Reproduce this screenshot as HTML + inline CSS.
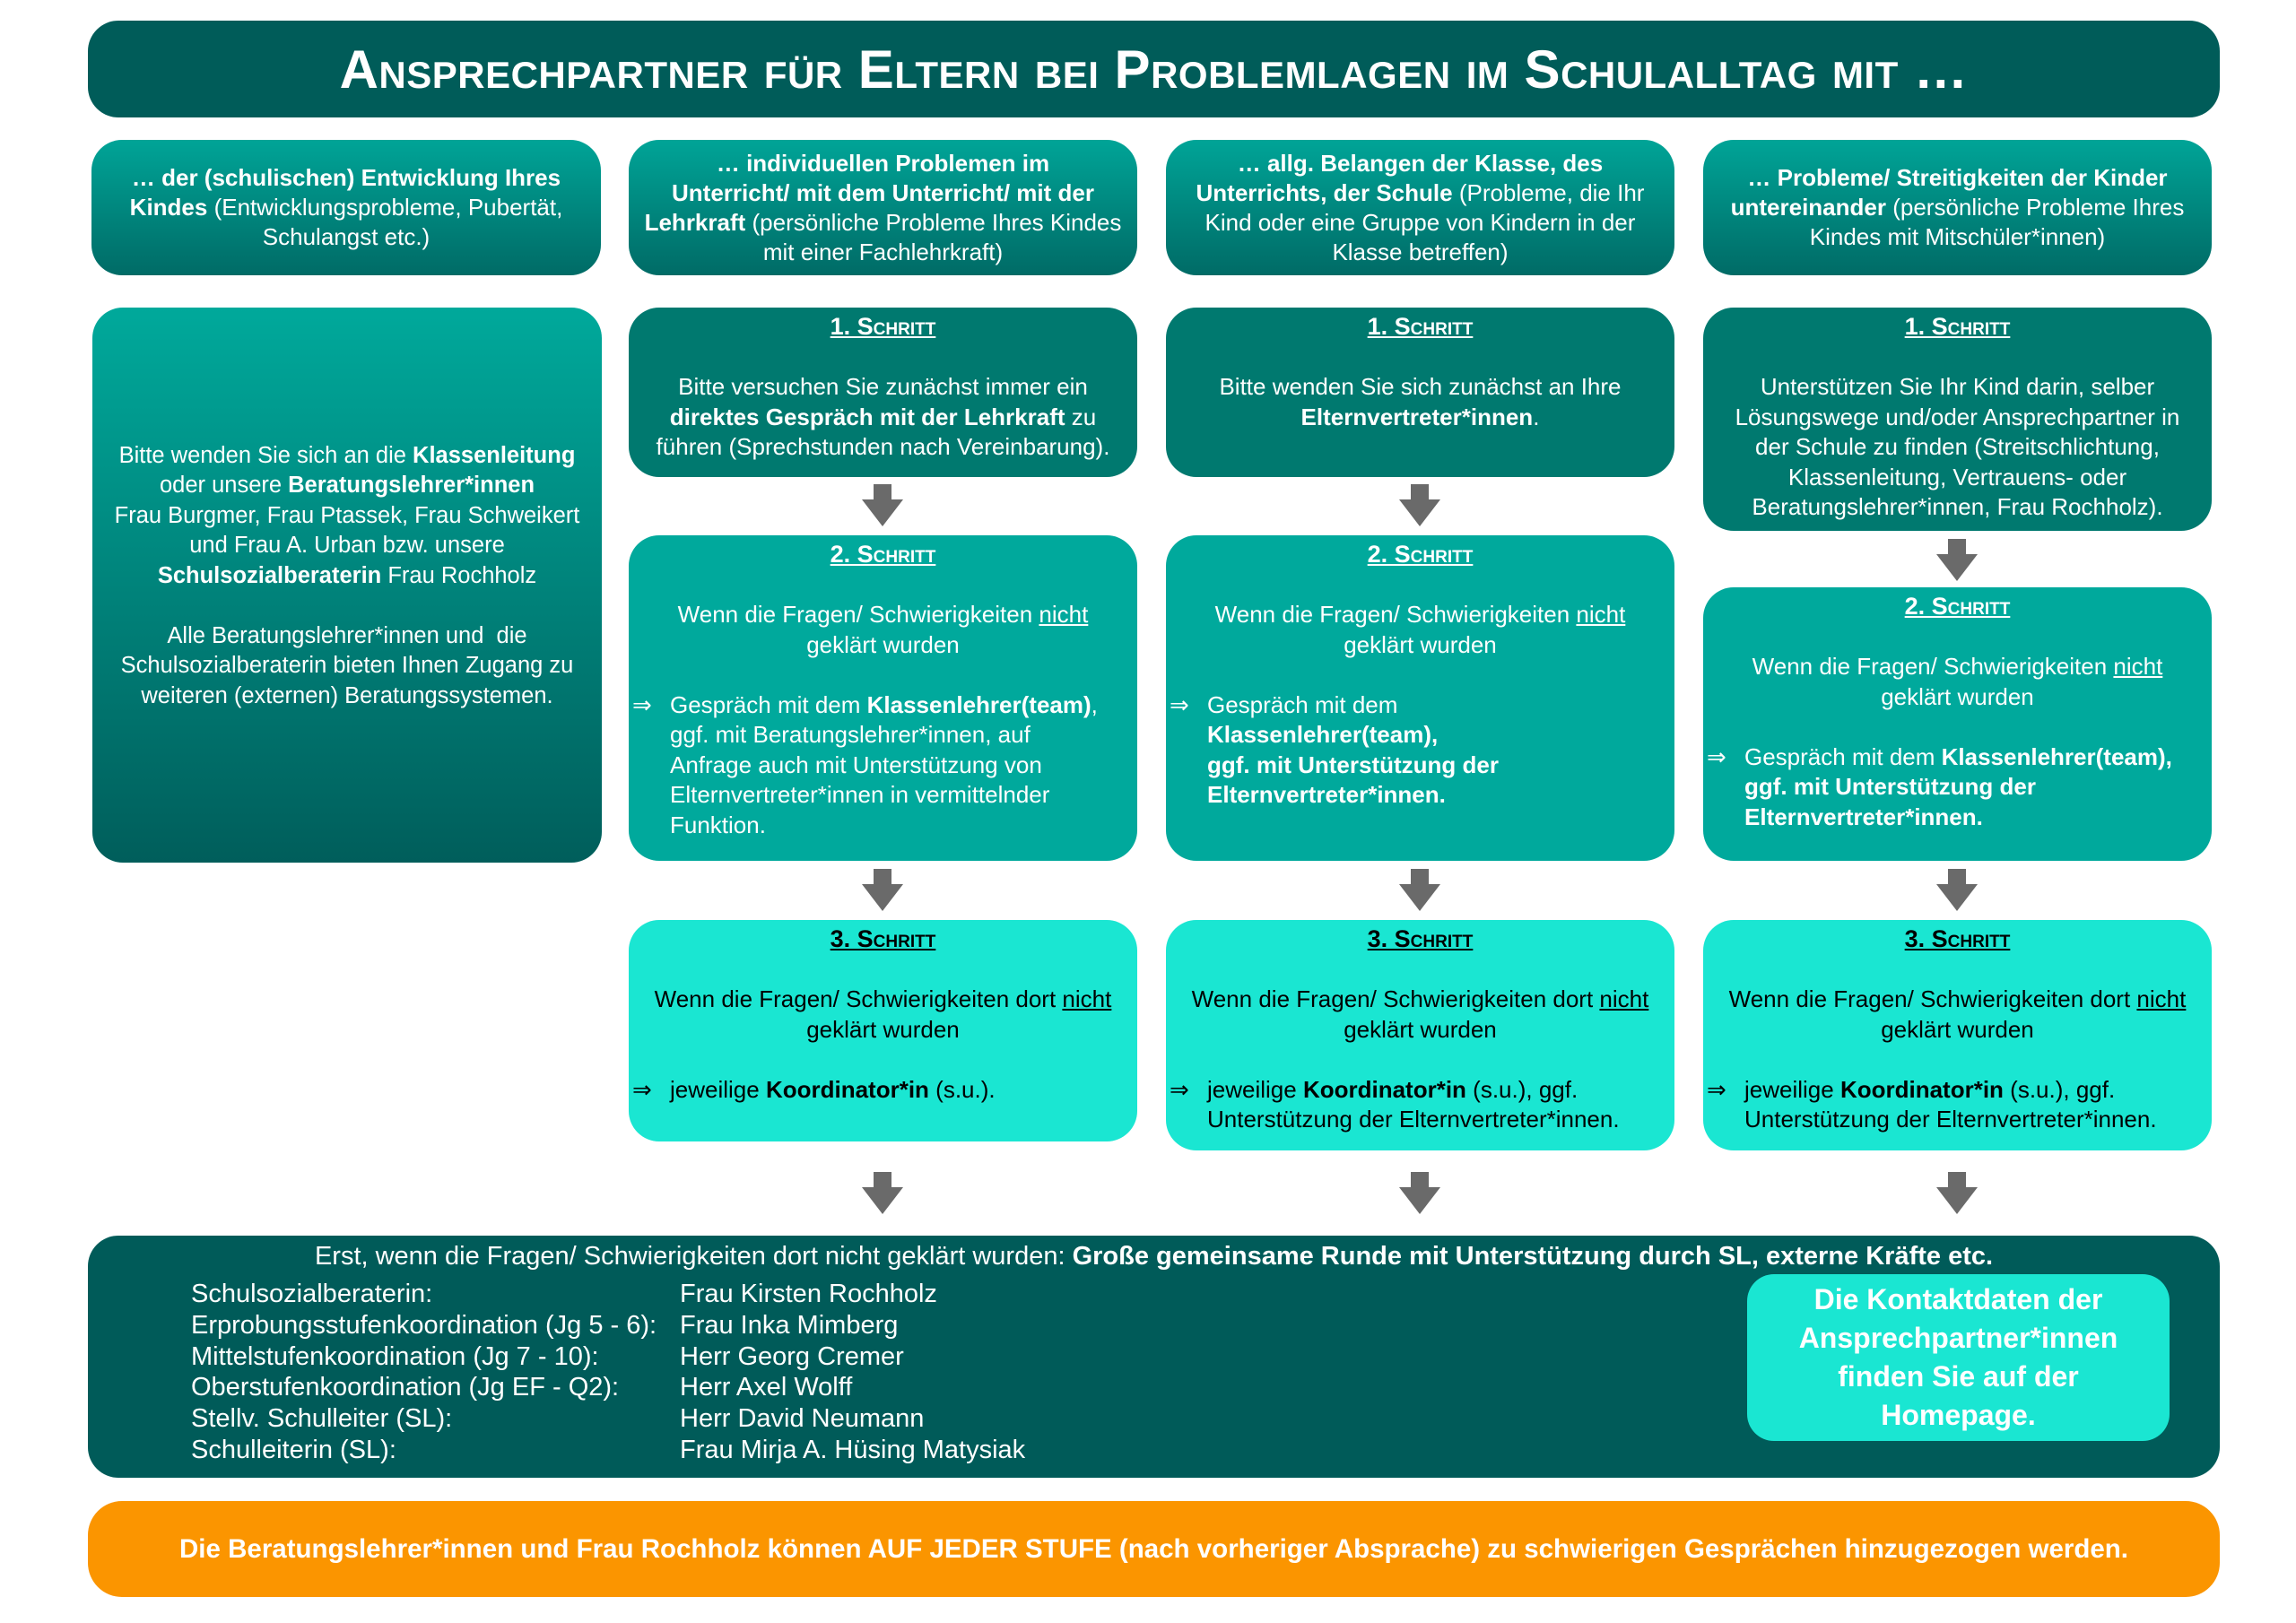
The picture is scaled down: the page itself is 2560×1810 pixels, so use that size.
<!DOCTYPE html>
<html><head><meta charset="utf-8">
<style>
*{margin:0;padding:0;box-sizing:border-box}
body{width:2560px;height:1810px;background:#fff;position:relative;overflow:hidden;font-family:"Liberation Sans",sans-serif;color:#fff}
.b{position:absolute;border-radius:34px}
.title{left:98px;top:23px;width:2377px;height:108px;background:#005c59;display:flex;align-items:center;justify-content:center;font-size:60px;font-weight:bold;font-variant:small-caps;letter-spacing:0.5px}
.hd{top:156px;height:151px;background:linear-gradient(#00a497,#006b66);display:flex;align-items:center;justify-content:center;text-align:center;font-size:26px;line-height:33px;padding:0 4px;white-space:nowrap}
.s1{background:#00796f}
.s2{background:#00a99c}
.s3{background:#1ae6d2;color:#000}
.st{text-align:center;font-size:26px;line-height:33.5px;padding:5px 4px 0;white-space:nowrap}
.st .t{font-weight:bold;text-decoration:underline;font-variant:small-caps;font-size:27px}
.li{text-align:left;padding-left:42px;text-indent:-42px}
.li span.a{display:inline-block;width:42px;text-indent:0}
.arr{position:absolute;width:46px;height:47px}
u{text-decoration:underline}
</style></head><body>
<div class="b title">Ansprechpartner für Eltern bei Problemlagen im Schulalltag mit …</div>

<div class="b hd" style="left:102px;width:568px"><div><b>… der (schulischen) Entwicklung Ihres<br>Kindes</b> (Entwicklungsprobleme, Pubertät,<br>Schulangst etc.)</div></div>
<div class="b hd" style="left:701px;width:567px"><div><b>… individuellen Problemen im<br>Unterricht/ mit dem Unterricht/ mit der<br>Lehrkraft</b> (persönliche Probleme Ihres Kindes<br>mit einer Fachlehrkraft)</div></div>
<div class="b hd" style="left:1300px;width:567px"><div><b>… allg. Belangen der Klasse, des<br>Unterrichts, der Schule</b> (Probleme, die Ihr<br>Kind oder eine Gruppe von Kindern in der<br>Klasse betreffen)</div></div>
<div class="b hd" style="left:1899px;width:567px"><div><b>… Probleme/ Streitigkeiten der Kinder<br>untereinander</b> (persönliche Probleme Ihres<br>Kindes mit Mitschüler*innen)</div></div>

<div class="b" style="left:103px;top:343px;width:568px;height:619px;background:linear-gradient(#00a99b,#005e5b);display:flex;align-items:center;justify-content:center;text-align:center;font-size:25.5px;line-height:33.5px;padding:0 0 20px;white-space:nowrap">
<div>Bitte wenden Sie sich an die <b>Klassenleitung</b><br>oder unsere <b>Beratungslehrer*innen</b><br>Frau Burgmer, Frau Ptassek, Frau Schweikert<br>und Frau A. Urban bzw. unsere<br><b>Schulsozialberaterin</b> Frau Rochholz<br><br>Alle Beratungslehrer*innen und&nbsp; die<br>Schulsozialberaterin bieten Ihnen Zugang zu<br>weiteren (externen) Beratungssystemen.</div></div>

<!-- col2 -->
<div class="b s1 st" style="left:701px;top:343px;width:567px;height:189px"><div class="t">1. Schritt</div><br>Bitte versuchen Sie zunächst immer ein<br><b>direktes Gespräch mit der Lehrkraft</b> zu<br>führen (Sprechstunden nach Vereinbarung).</div>
<div class="b s2 st" style="left:701px;top:597px;width:567px;height:363px"><div class="t">2. Schritt</div><br>Wenn die Fragen/ Schwierigkeiten <u>nicht</u><br>geklärt wurden<br><br><div class="li"><span class="a">⇒</span>Gespräch mit dem <b>Klassenlehrer(team)</b>,<br>ggf. mit Beratungslehrer*innen, auf<br>Anfrage auch mit Unterstützung von<br>Elternvertreter*innen in vermittelnder<br>Funktion.</div></div>
<div class="b s3 st" style="left:701px;top:1026px;width:567px;height:247px"><div class="t">3. Schritt</div><br>Wenn die Fragen/ Schwierigkeiten dort <u>nicht</u><br>geklärt wurden<br><br><div class="li"><span class="a">⇒</span>jeweilige <b>Koordinator*in</b> (s.u.).</div></div>

<!-- col3 -->
<div class="b s1 st" style="left:1300px;top:343px;width:567px;height:189px"><div class="t">1. Schritt</div><br>Bitte wenden Sie sich zunächst an Ihre<br><b>Elternvertreter*innen</b>.</div>
<div class="b s2 st" style="left:1300px;top:597px;width:567px;height:363px"><div class="t">2. Schritt</div><br>Wenn die Fragen/ Schwierigkeiten <u>nicht</u><br>geklärt wurden<br><br><div class="li"><span class="a">⇒</span>Gespräch mit dem<br><b>Klassenlehrer(team),<br>ggf. mit Unterstützung der<br>Elternvertreter*innen.</b></div></div>
<div class="b s3 st" style="left:1300px;top:1026px;width:567px;height:257px"><div class="t">3. Schritt</div><br>Wenn die Fragen/ Schwierigkeiten dort <u>nicht</u><br>geklärt wurden<br><br><div class="li"><span class="a">⇒</span>jeweilige <b>Koordinator*in</b> (s.u.), ggf.<br>Unterstützung der Elternvertreter*innen.</div></div>

<!-- col4 -->
<div class="b s1 st" style="left:1899px;top:343px;width:567px;height:249px"><div class="t">1. Schritt</div><br>Unterstützen Sie Ihr Kind darin, selber<br>Lösungswege und/oder Ansprechpartner in<br>der Schule zu finden (Streitschlichtung,<br>Klassenleitung, Vertrauens- oder<br>Beratungslehrer*innen, Frau Rochholz).</div>
<div class="b s2 st" style="left:1899px;top:655px;width:567px;height:305px"><div class="t">2. Schritt</div><br>Wenn die Fragen/ Schwierigkeiten <u>nicht</u><br>geklärt wurden<br><br><div class="li"><span class="a">⇒</span>Gespräch mit dem <b>Klassenlehrer(team),<br>ggf. mit Unterstützung der<br>Elternvertreter*innen.</b></div></div>
<div class="b s3 st" style="left:1899px;top:1026px;width:567px;height:257px"><div class="t">3. Schritt</div><br>Wenn die Fragen/ Schwierigkeiten dort <u>nicht</u><br>geklärt wurden<br><br><div class="li"><span class="a">⇒</span>jeweilige <b>Koordinator*in</b> (s.u.), ggf.<br>Unterstützung der Elternvertreter*innen.</div></div>

<!-- arrows -->
<svg width="0" height="0" style="position:absolute"><defs><symbol id="ar" viewBox="0 0 46 47"><path d="M13 0H33V17H46L23 47L0 17H13Z" fill="#6a6a6a"/></symbol></defs></svg>
<svg class="arr" style="left:961px;top:540px"><use href="#ar"/></svg>
<svg class="arr" style="left:1560px;top:540px"><use href="#ar"/></svg>
<svg class="arr" style="left:2159px;top:601px"><use href="#ar"/></svg>
<svg class="arr" style="left:961px;top:969px"><use href="#ar"/></svg>
<svg class="arr" style="left:1560px;top:969px"><use href="#ar"/></svg>
<svg class="arr" style="left:2159px;top:969px"><use href="#ar"/></svg>
<svg class="arr" style="left:961px;top:1307px"><use href="#ar"/></svg>
<svg class="arr" style="left:1560px;top:1307px"><use href="#ar"/></svg>
<svg class="arr" style="left:2159px;top:1307px"><use href="#ar"/></svg>

<!-- bottom -->
<div class="b" style="left:98px;top:1378px;width:2377px;height:270px;background:#005b59">
<div style="position:absolute;left:0;width:2377px;top:6px;text-align:center;font-size:29px;line-height:34px;white-space:nowrap">Erst, wenn die Fragen/ Schwierigkeiten dort nicht geklärt wurden: <b>Große gemeinsame Runde mit Unterstützung durch SL, externe Kräfte etc.</b></div>
<div style="position:absolute;left:115px;top:48px;font-size:29px;line-height:34.8px">Schulsozialberaterin:<br>Erprobungsstufenkoordination (Jg 5 - 6):<br>Mittelstufenkoordination (Jg 7 - 10):<br>Oberstufenkoordination (Jg EF - Q2):<br>Stellv. Schulleiter (SL):<br>Schulleiterin (SL):</div>
<div style="position:absolute;left:660px;top:48px;font-size:29px;line-height:34.8px">Frau Kirsten Rochholz<br>Frau Inka Mimberg<br>Herr Georg Cremer<br>Herr Axel Wolff<br>Herr David Neumann<br>Frau Mirja A. Hüsing Matysiak</div>
</div>
<div class="b" style="left:1948px;top:1421px;width:471px;height:186px;background:#1ae6d2;display:flex;align-items:center;justify-content:center;text-align:center;font-size:32px;line-height:43px;font-weight:bold;border-radius:30px">Die Kontaktdaten der<br>Ansprechpartner*innen<br>finden Sie auf der<br>Homepage.</div>

<div class="b" style="left:98px;top:1674px;width:2377px;height:107px;background:#fb9500;display:flex;align-items:center;justify-content:center;font-size:29.5px;font-weight:bold;border-radius:38px;white-space:nowrap">Die Beratungslehrer*innen und Frau Rochholz können AUF JEDER STUFE (nach vorheriger Absprache) zu schwierigen Gesprächen hinzugezogen werden.</div>
</body></html>
